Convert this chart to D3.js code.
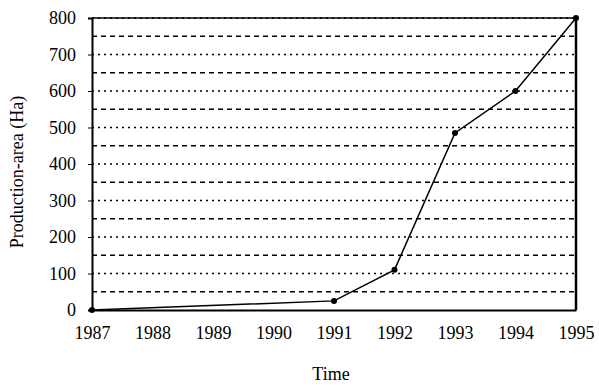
<!DOCTYPE html>
<html>
<head>
<meta charset="utf-8">
<script src="https://cdn.jsdelivr.net/npm/d3@7"></script>
<style>
  body { margin: 0; background: #fff; }
</style>
</head>
<body>
<svg></svg>
<script>
const years = [1987, 1991, 1992, 1993, 1994, 1995];
const area = [0, 25, 110, 485, 600, 800];
const xTicks = [1987, 1988, 1989, 1990, 1991, 1992, 1993, 1994, 1995];
const yTicks = [0, 100, 200, 300, 400, 500, 600, 700, 800];
const minorTicks = [50, 150, 250, 350, 450, 550, 650, 750];

const width = 599;
const height = 388;
const padLeft = 92, padRight = 576, padTop = 18, padBottom = 310;
const serif = '"Liberation Serif", "DejaVu Serif", serif';

let svg = d3.select('svg').attr('width', width).attr('height', height);

let xScale = d3.scaleLinear().domain([1987, 1995]).range([padLeft, padRight]);
let yScale = d3.scaleLinear().domain([0, 800]).range([padBottom, padTop]);

// gridlines: dotted at hundreds, dashed at fifties
svg.append('g').selectAll('line')
    .data(yTicks.slice(1))
    .enter()
    .append('line')
    .attr('x1', padLeft).attr('x2', padRight)
    .attr('y1', d => yScale(d)).attr('y2', d => yScale(d))
    .attr('stroke', '#000')
    .attr('stroke-width', 1.5)
    .attr('stroke-dasharray', '2,4');

svg.append('g').selectAll('line')
    .data(minorTicks)
    .enter()
    .append('line')
    .attr('x1', padLeft).attr('x2', padRight)
    .attr('y1', d => yScale(d)).attr('y2', d => yScale(d))
    .attr('stroke', '#000')
    .attr('stroke-width', 1.5)
    .attr('stroke-dasharray', '5,4');

// frame
svg.append('line')
    .attr('x1', padLeft).attr('x2', padRight)
    .attr('y1', padTop).attr('y2', padTop)
    .attr('stroke', '#000').attr('stroke-width', 1.5);
svg.append('line')
    .attr('x1', padRight).attr('x2', padRight)
    .attr('y1', padTop).attr('y2', padBottom)
    .attr('stroke', '#000').attr('stroke-width', 2.5);

let xAxis = d3.axisBottom(xScale).tickValues(xTicks).tickFormat(d3.format('d')).tickSize(0).tickPadding(16);
let gx = svg.append('g')
    .attr('transform', 'translate(0,' + padBottom + ')')
    .call(xAxis)
    .attr('font-family', serif)
    .attr('font-size', 18);
gx.select('.domain').attr('stroke-width', 2);

let yAxis = d3.axisLeft(yScale).tickValues(yTicks).tickSize(4).tickPadding(12);
let gy = svg.append('g')
    .attr('transform', 'translate(' + padLeft + ',0)')
    .call(yAxis)
    .attr('font-family', serif)
    .attr('font-size', 18);
gy.select('.domain').attr('stroke-width', 2);

// series
let line = d3.line()
    .x((d, i) => xScale(years[i]))
    .y(d => yScale(d));

svg.append('path')
    .datum(area)
    .attr('d', line)
    .attr('fill', 'none')
    .attr('stroke', '#000')
    .attr('stroke-width', 1.5);

svg.append('g').selectAll('circle')
    .data(area)
    .enter()
    .append('circle')
    .attr('cx', (d, i) => xScale(years[i]))
    .attr('cy', d => yScale(d))
    .attr('r', 3)
    .attr('fill', '#000');

svg.append('text')
    .attr('x', 331).attr('y', 380)
    .attr('text-anchor', 'middle')
    .attr('font-family', serif)
    .attr('font-size', 18)
    .text('Time');

svg.append('text')
    .attr('transform', 'translate(23,172) rotate(-90)')
    .attr('text-anchor', 'middle')
    .attr('font-family', serif)
    .attr('font-size', 18)
    .text('Production-area (Ha)');
</script>
</body>
</html>
